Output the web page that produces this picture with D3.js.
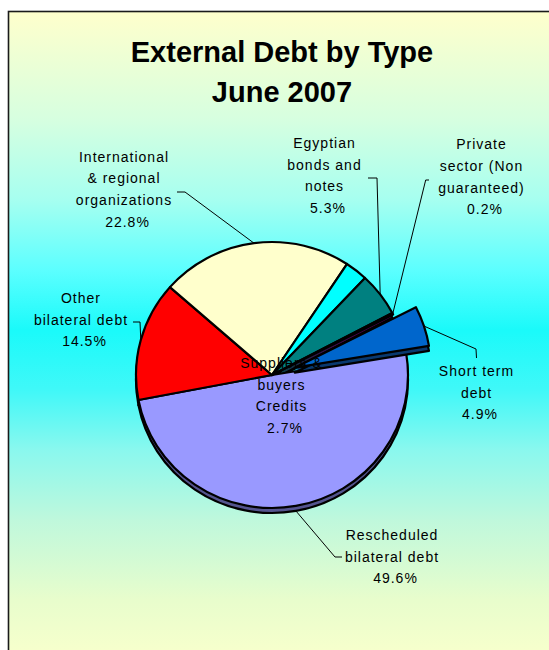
<!DOCTYPE html>
<html>
<head>
<meta charset="utf-8">
<script src="https://cdn.jsdelivr.net/npm/d3@7"></script>
<style>
  html, body { margin: 0; padding: 0; background: #ffffff; overflow: hidden; }
  svg { display: block; }
</style>
</head>
<body>
<svg id="chart" width="549" height="650"></svg>
<script>
// ---- data ----
const categories = [
  "Rescheduled bilateral debt",
  "Other bilateral debt",
  "International & regional organizations",
  "Suppliers & buyers Credits",
  "Egyptian bonds and notes",
  "Private sector (Non guaranteed)",
  "Short term debt"
];
const shares = [49.6, 14.5, 22.8, 2.7, 5.3, 0.2, 4.9];
const labelLines = [
  ["Rescheduled", "bilateral debt"],
  ["Other", "bilateral debt"],
  ["International", "& regional", "organizations"],
  ["Suppliers &", "buyers", "Credits"],
  ["Egyptian", "bonds and", "notes"],
  ["Private", "sector (Non", "guaranteed)"],
  ["Short term", "debt"]
];
const titleLines = ["External Debt by Type", "June 2007"];

// ---- styles ----
const topColors  = ["#9999FF", "#FF0000", "#FFFFCC", "#00FFFF", "#008080", "#800080", "#0066CC"];
const sideColors = ["#55558F", "#8A0000", "#9A9A70", "#009A9A", "#004848", "#480048", "#0A3A70"];
const font = "'Liberation Sans', Arial, Helvetica, sans-serif";

// ---- layout ----
const W = 549, H = 650;
const cx = 272, cy = 375, rx = 136, ry = 133, depth = 5;
const explodeIndex = 6, explodeDist = 24;
const startAngle = 80.6 * Math.PI / 180;
const lineH = 21.7;

// label blocks: centre x and first baseline; hook = label-side end of leader line
const labelLayout = [
  { x: 392,   y: 540,   hook: [[335, 557], [342, 557]] },
  { x: 81,    y: 303,   hook: [[140, 322], [133, 322]] },
  { x: 124,   y: 161.7, hook: [[185, 192], [177, 192]] },
  { x: 281.5, y: 368,   hook: null },
  { x: 324.5, y: 147.8, hook: [[377, 178], [368, 178]] },
  { x: 481.5, y: 149.3, hook: [[425.7, 180], [429, 180]] },
  { x: 476.5, y: 376,   hook: [[476, 349], [476.5, 358]] }
];

const svg = d3.select("#chart");
const defs = svg.append("defs");

// background fill: yellow to aqua and back
const grad = defs.append("linearGradient")
  .attr("id", "bg").attr("gradientUnits", "userSpaceOnUse")
  .attr("x1", 0).attr("y1", 11).attr("x2", 0).attr("y2", 650);
[
  [11, "#FFFFCC"], [120, "#D6FFE0"], [200, "#A6FFF0"], [270, "#5CFFFF"],
  [330, "#1AFAFA"], [390, "#40F8F8"], [450, "#8AF8EE"], [520, "#BFF8DC"],
  [600, "#E8FDCC"], [650, "#F6FFCC"]
].forEach(([y, c]) => grad.append("stop").attr("offset", (y - 11) / 639).attr("stop-color", c));

svg.append("rect")
  .attr("x", 8.5).attr("y", 11.5).attr("width", 620).attr("height", 720)
  .attr("fill", "url(#bg)").attr("stroke", "#1a1a1a").attr("stroke-width", 1.6);

// ---- title ----
svg.append("text")
  .attr("text-anchor", "middle")
  .attr("font-family", font).attr("font-weight", "bold").attr("font-size", 29)
  .attr("fill", "#000")
  .selectAll("tspan").data(titleLines).join("tspan")
  .attr("x", 282).attr("y", (d, i) => 61.7 + i * 40)
  .text(d => d);

// ---- pie ----
const pie = d3.pie().sort(null).value(d => d)
  .startAngle(startAngle).endAngle(startAngle + 2 * Math.PI);
const arcs = pie(shares);
const arc = d3.arc().innerRadius(0).outerRadius(rx);
const yScale = ry / rx;

function explodeOffset(i) {
  if (i !== explodeIndex) return [0, 0];
  const m = (arcs[i].startAngle + arcs[i].endAngle) / 2;
  return [explodeDist * Math.sin(m), -explodeDist * Math.cos(m)];
}

function drawFace(g, i, dy, fill, stroke) {
  const [ox, oy] = explodeOffset(i);
  g.append("path")
    .attr("d", arc(arcs[i]))
    .attr("transform", `translate(${cx},${cy + dy}) scale(1,${yScale}) translate(${ox},${oy})`)
    .attr("fill", fill)
    .attr("stroke", stroke)
    .attr("stroke-width", 2.2)
    .attr("stroke-linejoin", "round")
    .attr("vector-effect", "non-scaling-stroke");
}

function drawSlices(g, idx) {
  // extruded side: stacked copies, lowest one outlined
  idx.forEach(i => { for (let k = depth; k >= 1; k--) drawFace(g, i, k, sideColors[i], "none"); });
  idx.forEach(i => drawFace(g, i, depth, "none", "#000"));
  idx.forEach(i => drawFace(g, i, 0, topColors[i], "#000"));
}

const pieG = svg.append("g");
drawSlices(pieG, d3.range(shares.length).filter(i => i !== explodeIndex));
drawSlices(pieG, [explodeIndex]);

// ---- leader lines ----
function edgePoint(i) {
  const m = (arcs[i].startAngle + arcs[i].endAngle) / 2;
  const [ox, oy] = explodeOffset(i);
  const x = cx + rx * Math.sin(m) + ox;
  let y = cy - ry * Math.cos(m) + oy * yScale;
  if (Math.cos(m) < -0.5) y += depth;   // front of the pie: attach below the rim
  return [x, y];
}

svg.append("g")
  .selectAll("path")
  .data(d3.range(shares.length).filter(i => labelLayout[i].hook))
  .join("path")
  .attr("d", i => d3.line()([edgePoint(i), ...labelLayout[i].hook]))
  .attr("fill", "none").attr("stroke", "#000").attr("stroke-width", 1);

// ---- labels ----
const labels = svg.append("g")
  .attr("font-family", font).attr("font-size", 14)
  .attr("letter-spacing", "1px").attr("fill", "#000")
  .attr("text-anchor", "middle");

shares.forEach((v, i) => {
  const L = labelLayout[i];
  const lines = labelLines[i].concat([v.toFixed(1) + "%"]);
  labels.append("text")
    .selectAll("tspan").data(lines).join("tspan")
    .attr("x", (d, j) => L.x + (j === lines.length - 1 ? 3.5 : 0))
    .attr("y", (d, j) => L.y + j * lineH)
    .text(d => d);
});
</script>
</body>
</html>
